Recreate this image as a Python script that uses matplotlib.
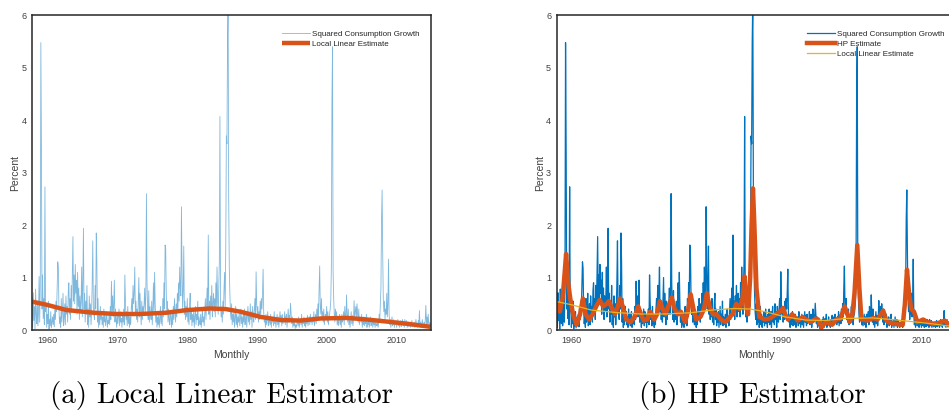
import numpy as np
import matplotlib
matplotlib.use("Agg")
import matplotlib.pyplot as plt

# squared monthly consumption growth, one row per year (first month = Nov 1957)
growth_sq = [
    0.62, 0.05, 0.71, 0.18, 0.45, 0.02, 0.78, 0.30, 0.12, 0.55, 0.08, 0.35,  # 1958
    1.02, 0.15, 0.85, 5.48, 3.45, 0.40, 1.05, 0.22, 0.60, 0.10, 2.73, 0.35,  # 1959
    0.48, 0.05, 0.30, 0.12, 0.55, 0.02, 0.20, 0.08, 0.35, 0.04, 0.15, 0.25,  # 1960
    0.10, 0.30, 0.06, 0.45, 0.20, 0.55, 0.35, 0.85, 1.30, 1.18, 0.40, 0.12,  # 1961
    0.25, 0.05, 0.60, 0.15, 0.35, 0.70, 0.08, 0.22, 0.50, 0.10, 0.65, 0.30,  # 1962
    0.45, 0.15, 0.75, 0.90, 0.30, 0.60, 0.20, 0.85, 0.40, 1.15, 1.78, 0.55,  # 1963
    1.05, 0.50, 1.25, 0.70, 0.95, 0.30, 1.10, 0.45, 0.80, 0.20, 0.65, 0.35,  # 1964
    0.55, 1.20, 0.25, 0.95, 1.94, 0.40, 0.70, 0.15, 0.55, 0.30, 0.85, 0.10,  # 1965
    0.40, 0.05, 0.65, 0.25, 0.50, 0.10, 0.35, 0.90, 1.70, 0.45, 0.30, 0.20,  # 1966
    0.85, 0.40, 1.85, 1.30, 0.15, 0.60, 0.05, 0.30, 0.10, 0.45, 0.20, 0.35,  # 1967
    0.10, 0.25, 0.05, 0.40, 0.15, 0.30, 0.08, 0.20, 0.35, 0.05, 0.18, 0.12,  # 1968
    0.30, 0.10, 0.45, 0.20, 0.93, 0.35, 0.65, 0.25, 0.50, 0.95, 0.15, 0.40,  # 1969
    0.20, 0.05, 0.30, 0.12, 0.25, 0.40, 0.08, 0.35, 0.15, 0.22, 0.05, 0.30,  # 1970
    0.15, 0.40, 0.10, 1.05, 0.55, 0.20, 0.35, 0.08, 0.45, 0.12, 0.30, 0.05,  # 1971
    0.25, 0.10, 0.40, 0.60, 0.30, 0.85, 0.50, 0.70, 1.20, 0.35, 0.55, 0.20,  # 1972
    0.40, 0.15, 0.60, 1.00, 0.25, 0.70, 0.35, 0.10, 0.55, 0.20, 0.45, 0.30,  # 1973
    0.50, 0.80, 0.30, 0.65, 2.60, 0.90, 0.40, 0.20, 0.75, 0.15, 0.45, 0.30,  # 1974
    0.20, 0.55, 0.10, 0.40, 0.90, 0.30, 1.10, 0.50, 0.15, 0.35, 0.05, 0.25,  # 1975
    0.10, 0.30, 0.05, 0.20, 0.45, 0.12, 0.35, 0.08, 0.60, 0.25, 0.90, 0.40,  # 1976
    1.62, 1.55, 0.70, 0.30, 0.55, 0.15, 0.40, 0.20, 0.10, 0.35, 0.25, 0.05,  # 1977
    0.30, 0.10, 0.45, 0.20, 0.60, 0.35, 0.15, 0.50, 0.25, 0.70, 0.40, 0.90,  # 1978
    0.55, 1.20, 0.80, 0.65, 2.35, 1.15, 0.40, 0.75, 1.60, 0.30, 0.55, 0.20,  # 1979
    0.45, 0.25, 0.60, 0.15, 0.35, 0.10, 0.50, 0.70, 0.20, 0.40, 0.08, 0.30,  # 1980
    0.15, 0.35, 0.05, 0.25, 0.45, 0.10, 0.30, 0.20, 0.55, 0.08, 0.25, 0.15,  # 1981
    0.10, 0.30, 0.05, 0.20, 0.40, 0.15, 0.25, 0.08, 0.35, 0.60, 0.20, 0.45,  # 1982
    0.80, 0.40, 1.81, 0.30, 0.55, 0.20, 0.65, 0.40, 0.85, 0.25, 0.50, 0.70,  # 1983
    0.35, 0.60, 0.25, 0.90, 0.45, 1.20, 0.55, 0.30, 0.80, 1.30, 4.07, 0.60,  # 1984
    0.25, 0.40, 0.15, 0.55, 0.30, 0.80, 1.10, 0.45, 1.60, 3.70, 3.55, 5.50,  # 1985
    6.30, 2.54, 1.20, 0.70, 0.35, 0.20, 0.50, 0.10, 0.30, 0.15, 0.40, 0.05,  # 1986
    0.20, 0.45, 0.10, 0.30, 0.05, 0.25, 0.15, 0.35, 0.08, 0.20, 0.40, 0.12,  # 1987
    0.25, 0.05, 0.30, 0.15, 0.40, 0.10, 0.20, 0.35, 0.05, 0.28, 0.45, 0.15,  # 1988
    0.30, 0.10, 0.50, 0.20, 0.35, 0.05, 0.45, 0.25, 0.15, 0.40, 0.60, 0.20,  # 1989
    1.11, 0.50, 0.30, 0.45, 0.15, 0.35, 0.20, 0.55, 0.30, 0.60, 0.40, 0.70,  # 1990
    1.16, 0.35, 0.15, 0.25, 0.05, 0.30, 0.10, 0.20, 0.35, 0.08, 0.15, 0.25,  # 1991
    0.10, 0.30, 0.05, 0.20, 0.15, 0.25, 0.08, 0.35, 0.12, 0.22, 0.05, 0.18,  # 1992
    0.30, 0.10, 0.25, 0.05, 0.20, 0.35, 0.15, 0.28, 0.08, 0.30, 0.12, 0.20,  # 1993
    0.15, 0.35, 0.10, 0.25, 0.30, 0.05, 0.20, 0.40, 0.15, 0.28, 0.22, 0.51,  # 1994
    0.30, 0.12, 0.25, 0.05, 0.18, 0.08, 0.15, 0.03, 0.10, 0.05, 0.12, 0.20,  # 1995
    0.08, 0.25, 0.05, 0.15, 0.22, 0.10, 0.30, 0.05, 0.18, 0.12, 0.25, 0.08,  # 1996
    0.15, 0.05, 0.20, 0.12, 0.28, 0.08, 0.18, 0.25, 0.10, 0.30, 0.15, 0.22,  # 1997
    0.10, 0.25, 0.15, 0.35, 0.08, 0.20, 0.30, 0.12, 0.40, 0.18, 0.50, 0.25,  # 1998
    0.80, 1.22, 0.45, 0.30, 0.60, 0.20, 0.35, 0.15, 0.40, 0.10, 0.25, 0.30,  # 1999
    0.20, 0.45, 0.15, 0.35, 0.10, 0.25, 0.30, 0.40, 0.55, 1.20, 4.38, 5.40,  # 2000
    1.10, 0.60, 0.30, 0.15, 0.40, 0.20, 0.35, 0.10, 0.25, 0.08, 0.20, 0.30,  # 2001
    0.10, 0.25, 0.05, 0.30, 0.15, 0.20, 0.35, 0.10, 0.45, 0.25, 0.20, 0.67,  # 2002
    0.30, 0.15, 0.40, 0.10, 0.25, 0.05, 0.20, 0.35, 0.12, 0.28, 0.08, 0.20,  # 2003
    0.56, 0.20, 0.35, 0.45, 0.25, 0.50, 0.30, 0.15, 0.40, 0.10, 0.25, 0.20,  # 2004
    0.15, 0.30, 0.05, 0.20, 0.10, 0.25, 0.08, 0.18, 0.12, 0.30, 0.05, 0.15,  # 2005
    0.10, 0.20, 0.05, 0.15, 0.25, 0.08, 0.12, 0.20, 0.05, 0.18, 0.10, 0.15,  # 2006
    0.05, 0.15, 0.10, 0.08, 0.20, 0.05, 0.12, 0.30, 0.20, 0.50, 0.80, 2.10,  # 2007
    2.67, 1.50, 0.60, 0.35, 0.55, 0.20, 0.40, 0.30, 0.70, 0.25, 0.50, 1.35,  # 2008
    0.30, 0.10, 0.20, 0.05, 0.15, 0.25, 0.08, 0.12, 0.20, 0.05, 0.15, 0.10,  # 2009
    0.18, 0.05, 0.12, 0.20, 0.08, 0.15, 0.05, 0.10, 0.18, 0.06, 0.12, 0.20,  # 2010
    0.08, 0.15, 0.05, 0.20, 0.12, 0.08, 0.18, 0.05, 0.10, 0.15, 0.06, 0.12,  # 2011
    0.15, 0.05, 0.10, 0.18, 0.06, 0.12, 0.08, 0.15, 0.05, 0.10, 0.20, 0.08,  # 2012
    0.12, 0.05, 0.18, 0.10, 0.37, 0.08, 0.15, 0.05, 0.12, 0.20, 0.06, 0.10,  # 2013
    0.15, 0.05, 0.20, 0.47, 0.10, 0.25, 0.08, 0.30, 0.12, 0.05, 0.15, 0.10,  # 2014
]
start_year = 1957.875

# HP filter trend
hp_years = [1957.9, 1958.3, 1958.7, 1959.0, 1959.2, 1959.5, 1959.8, 1960.2, 1960.7,
            1961.2, 1961.6, 1962.0, 1962.5, 1963.0, 1963.5, 1964.0, 1964.5, 1965.0,
            1965.3, 1965.8, 1966.2, 1966.6, 1966.9, 1967.3, 1967.8, 1968.4, 1969.0,
            1969.5, 1969.9, 1970.3, 1970.8, 1971.2, 1971.8, 1972.2, 1972.6, 1973.0,
            1973.4, 1973.8, 1974.3, 1974.7, 1975.2, 1975.6, 1976.2, 1976.6, 1977.0,
            1977.4, 1977.8, 1978.4, 1978.9, 1979.3, 1979.7, 1980.2, 1980.7, 1981.3,
            1982.0, 1982.6, 1983.0, 1983.5, 1984.0, 1984.4, 1984.7, 1985.0, 1985.2,
            1985.5, 1985.7, 1985.9, 1986.1, 1986.4, 1986.8, 1987.6, 1988.3, 1989.2,
            1989.8, 1990.2, 1990.5, 1990.9, 1991.5, 1992.3, 1993.0, 1993.5, 1994.2,
            1994.9, 1995.2, 1995.7, 1996.1, 1996.6, 1997.2, 1997.8, 1998.4, 1999.0,
            1999.4, 1999.7, 2000.1, 2000.4, 2000.8, 2001.1, 2001.4, 2002.3, 2003.1,
            2003.7, 2004.5, 2004.9, 2005.2, 2006.1, 2007.0, 2007.3, 2007.6, 2007.9,
            2008.2, 2008.5, 2008.9, 2009.4, 2010.2, 2010.9, 2011.6, 2012.3, 2013.3,
            2013.9, 2014.4, 2014.75]
hp_trend = [0.50, 0.35, 0.60, 1.10, 1.45, 0.90, 0.60, 0.30, 0.10,
            0.30, 0.60, 0.30, 0.20, 0.30, 0.45, 0.57, 0.45, 0.50,
            0.55, 0.40, 0.30, 0.45, 0.60, 0.45, 0.20, 0.15, 0.25,
            0.45, 0.30, 0.18, 0.20, 0.35, 0.20, 0.30, 0.55, 0.40,
            0.30, 0.45, 0.62, 0.40, 0.30, 0.35, 0.15, 0.35, 0.68,
            0.40, 0.20, 0.25, 0.40, 0.70, 0.45, 0.30, 0.30, 0.20,
            0.15, 0.25, 0.30, 0.50, 0.40, 0.60, 1.02, 0.40, 0.30,
            1.00, 2.00, 2.70, 2.00, 0.80, 0.25, 0.20, 0.22, 0.30,
            0.35, 0.42, 0.30, 0.20, 0.30, 0.18, 0.25, 0.20, 0.15,
            0.22, 0.20, 0.05, 0.12, 0.15, 0.10, 0.20, 0.22, 0.45,
            0.30, 0.15, 0.30, 0.70, 1.62, 0.80, 0.20, 0.18, 0.23,
            0.20, 0.37, 0.20, 0.15, 0.12, 0.10, 0.10, 0.50, 1.15,
            0.70, 0.40, 0.35, 0.15, 0.20, 0.15, 0.12, 0.13, 0.18,
            0.10, 0.15, 0.08]

# local linear (kernel) estimate
ll_years = [1957.9, 1960.0, 1962.8, 1966.6, 1969.9, 1973.3, 1977.1, 1980.0, 1983.3, 1985.5,
            1987.6, 1990.5, 1993.4, 1996.2, 1999.1, 2002.9, 2005.7, 2008.6, 2011.4, 2014.8]
ll_trend = [0.54, 0.48, 0.38, 0.33, 0.305, 0.305, 0.33, 0.38, 0.41, 0.40,
            0.35, 0.25, 0.19, 0.18, 0.22, 0.23, 0.20, 0.16, 0.12, 0.06]

year_ticks = [1960, 1970, 1980, 1990, 2000, 2010]

BLUE = "#0072BD"
ORANGE = "#D95319"
YELLOW = "#EDB120"
INK = "#262626"

months = start_year + np.arange(len(growth_sq)) / 12.0

fig = plt.figure(figsize=(9.49, 4.16), dpi=100)
plt.rcParams["font.family"] = ["Liberation Sans", "DejaVu Sans"]

# axes box in pixels: 399 wide, 314.7 tall; right panel runs past the edge
ax1 = fig.add_axes([32 / 949, 1 - 330 / 416, 399 / 949, 314.7 / 416])
ax2 = fig.add_axes([556.7 / 949, 1 - 330 / 416, 399 / 949, 314.7 / 416])

ax1.plot(months, growth_sq, color=BLUE, lw=0.6, alpha=0.5, label="Squared Consumption Growth")
ax1.plot(ll_years, ll_trend, color=ORANGE, lw=3.2, label="Local Linear Estimate",
         solid_capstyle="butt")

ax2.plot(months, growth_sq, color=BLUE, lw=0.9, label="Squared Consumption Growth")
ax2.plot(hp_years, hp_trend, color=ORANGE, lw=3.2, label="HP Estimate")
ax2.plot(ll_years, ll_trend, color=YELLOW, lw=0.9, label="Local Linear Estimate")

for ax in (ax1, ax2):
    ax.set_xlim(1957.86, 2014.86)
    ax.set_ylim(0, 6)
    ax.set_xticks(year_ticks)
    ax.set_yticks(range(7))
    ax.tick_params(length=0, labelsize=6.5, labelcolor="#404040", pad=4)
    for s in ax.spines.values():
        s.set_color(INK)
        s.set_linewidth(1.1)
    ax.set_xlabel("Monthly", fontsize=7.5, color="#404040", labelpad=4)
    ax.set_ylabel("Percent", fontsize=7.5, color="#404040", labelpad=1)
    leg = ax.legend(loc="upper right", frameon=False, fontsize=5.8, handlelength=3.5,
                    handletextpad=0.3, labelspacing=0.3, borderpad=0, borderaxespad=0,
                    bbox_to_anchor=(1 - 11 / 399, 1 - 15 / 314.7))
    for t in leg.get_texts():
        t.set_color(INK)

fig.text(222 / 949, 1 - 396 / 416, "(a) Local Linear Estimator", family="cmr10",
         fontsize=21, ha="center", va="center", color="black")
fig.text(752 / 949, 1 - 396 / 416, "(b) HP Estimator", family="cmr10",
         fontsize=21, ha="center", va="center", color="black")

fig.savefig("out.png", dpi=100)
